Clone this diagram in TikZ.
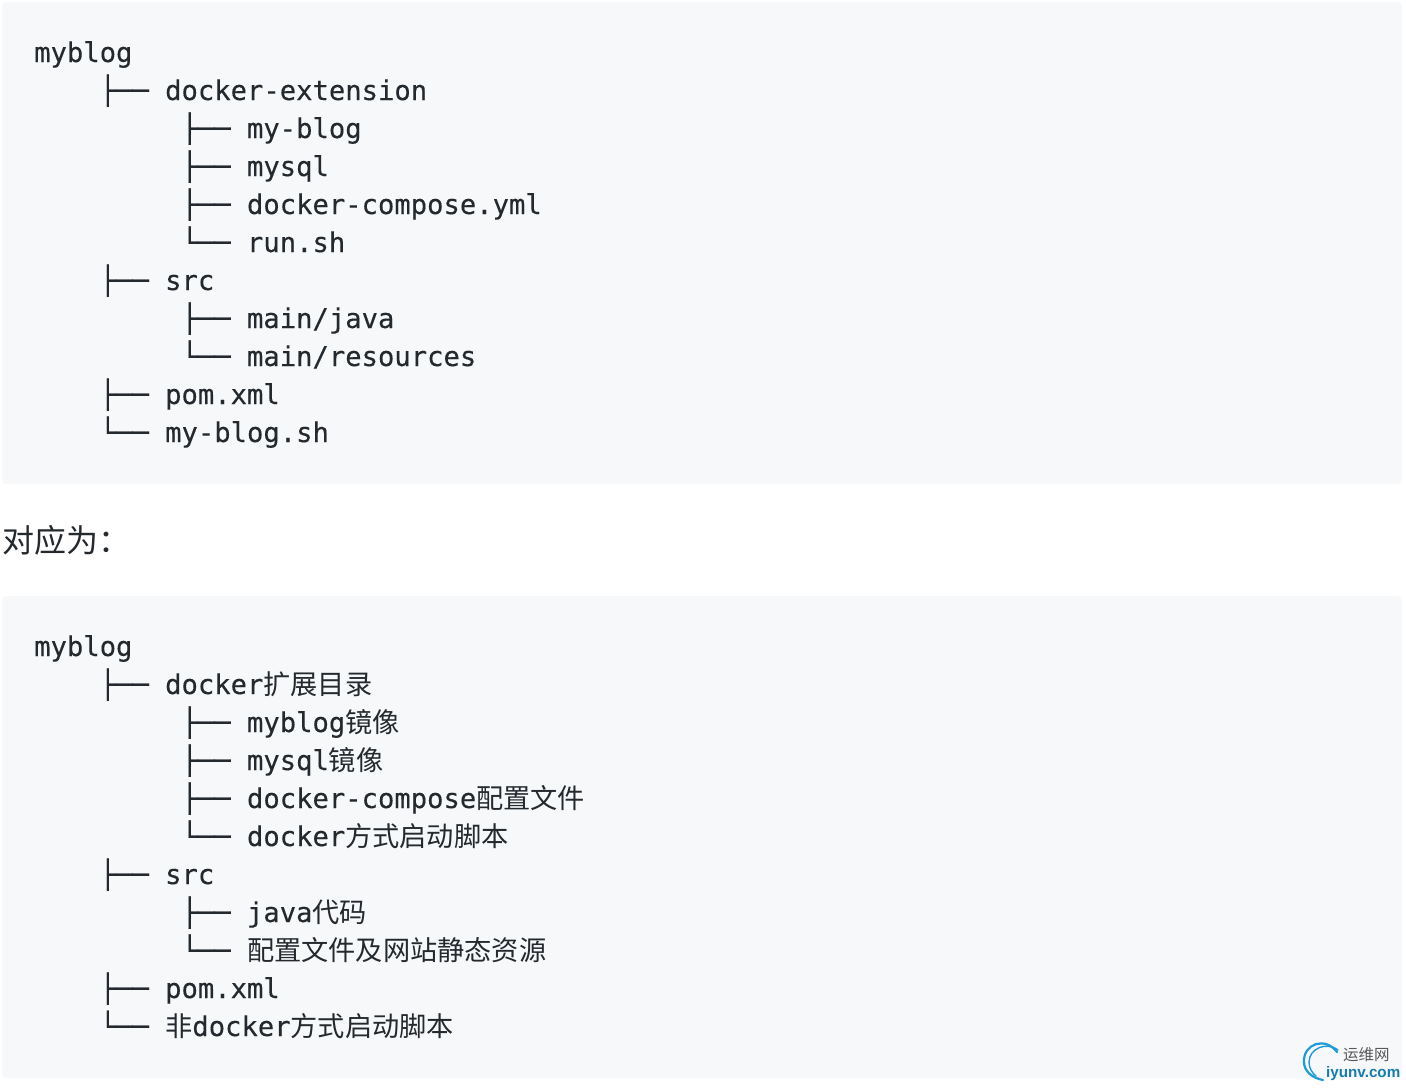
\documentclass[tikz,border=0pt]{standalone}
\usepackage{fontspec}
\setmonofont[FakeBold=0.25]{DejaVu Sans Mono}
\newfontfamily\cjk{Noto Sans CJK SC}
\newfontfamily\logofont{Liberation Sans}
\definecolor{codebg}{HTML}{F6F8FA}
\definecolor{codefg}{HTML}{24292E}
\definecolor{logoblue}{HTML}{1E9BD7}
\newcommand{\zh}[1]{{\cjk #1}}
\tikzset{
    codebox/.style={fill=codebg, rounded corners=4pt},
    treeline/.style={anchor=base west, inner sep=0pt, text=codefg, font=\ttfamily\fontsize{27.2}{38}\selectfont},
    logoarc/.style={draw=logoblue, line cap=round}
}
\begin{document}
\begin{tikzpicture}[x=1pt, y=-1pt]
    \useasboundingbox (0, 0) rectangle (1406, 1088);
    \fill[codebox] (2, 2) rectangle (1402, 484);
    \fill[codebox] (2, 596) rectangle (1402, 1078);

    \node[treeline] (top1) at (34, 62) {myblog};
    \foreach \n/\col/\tee/\txt in {
        1/4/├──/docker-extension, 2/9/├──/my-blog, 3/9/├──/mysql,
        4/9/├──/docker-compose.yml, 5/9/└──/run.sh, 6/4/├──/src,
        7/9/├──/{main/java}, 8/9/└──/{main/resources},
        9/4/├──/pom.xml, 10/4/└──/my-blog.sh}
    {
        \node[treeline] (tee1\n) at ({34 + \col*16.37}, {62 + \n*38}) {\tee};
        \node[treeline] (name1\n) at ({34 + (\col+4)*16.37}, {62 + \n*38}) {\txt};
    }

    \node[anchor=base west, inner sep=0pt, text=codefg, font=\cjk\fontsize{32}{38}\selectfont] (caption) at (2, 552) {对应为：};

    \node[treeline] (top2) at (34, 656) {myblog};
    \foreach \n/\col/\tee/\txt in {
        1/4/├──/docker\zh{扩展目录}, 2/9/├──/myblog\zh{镜像}, 3/9/├──/mysql\zh{镜像},
        4/9/├──/docker-compose\zh{配置文件}, 5/9/└──/docker\zh{方式启动脚本}, 6/4/├──/src,
        7/9/├──/java\zh{代码}, 8/9/└──/\zh{配置文件及网站静态资源},
        9/4/├──/pom.xml, 10/4/└──/\zh{非}docker\zh{方式启动脚本}}
    {
        \node[treeline] (tee2\n) at ({34 + \col*16.37}, {656 + \n*38}) {\tee};
        \node[treeline] (name2\n) at ({34 + (\col+4)*16.37}, {656 + \n*38}) {\txt};
    }

    \draw[logoarc, line width=2.2pt] (1337, 1052) .. controls (1325, 1036) and (1303, 1044) .. (1304, 1062) .. controls (1304, 1071) and (1312, 1078) .. (1323, 1080);
    \draw[logoarc, line width=1.4pt] (1338, 1050) .. controls (1326, 1041) and (1309, 1049) .. (1309, 1062) .. controls (1309, 1068) and (1312, 1073) .. (1316, 1076);
    \node[anchor=base west, inner sep=0pt, text=black!65, font=\cjk\fontsize{15.5}{18}\selectfont] (logoname) at (1343, 1060) {运维网};
    \node[anchor=base west, inner sep=0pt, text=logoblue!80!black, font=\logofont\bfseries\fontsize{15.2}{18}\selectfont] (logourl) at (1326, 1077) {iyunv.com};
\end{tikzpicture}
\end{document}
